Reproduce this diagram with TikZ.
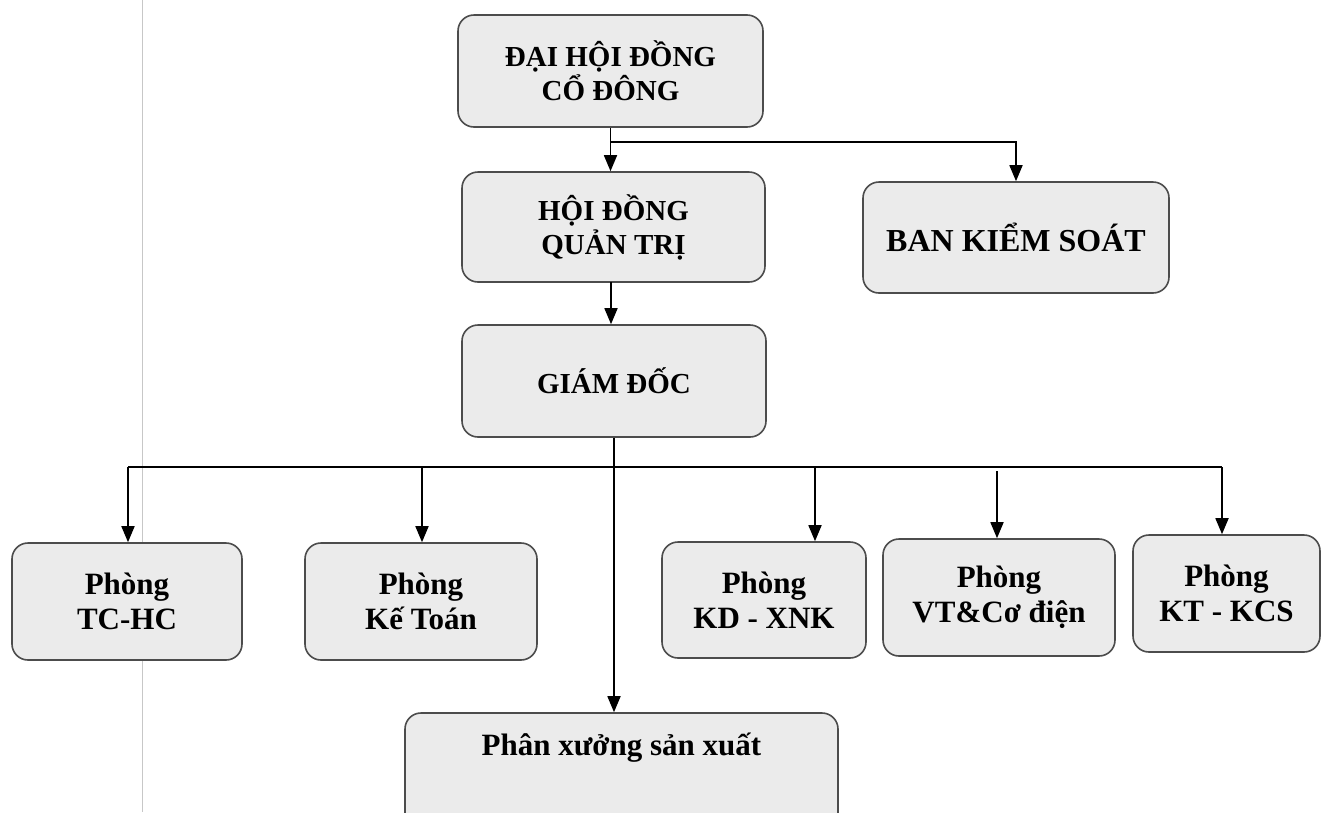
\documentclass[tikz,border=0pt]{standalone}
\usepackage{fontspec}
\setmainfont{Liberation Serif}
\usetikzlibrary{arrows.meta}
\begin{document}
\begin{tikzpicture}[x=1pt,y=-1pt,
  orgbox/.style={draw=black!70, line width=1.6pt, fill=black!8, rounded corners=16pt,
    inner sep=0pt, align=center, font=\bfseries\fontsize{29}{34}\selectfont},
  lowbox/.style={orgbox, font=\bfseries\fontsize{31}{35}\selectfont},
  conn/.style={line width=1.7pt, draw=black},
  arr/.style={conn, -{Triangle[length=16pt,width=13pt]}}]
\useasboundingbox (0,0) rectangle (1322,812);
\clip (0,0) rectangle (1322,812);
\fill[white] (0,0) rectangle (1322,812);
% faint scan line
\draw[black!22, line width=0.8pt] (142,0) -- (142,812);

\node[orgbox, minimum width=305pt, minimum height=112pt] (dhd) at (610.5,71) {ĐẠI HỘI ĐỒNG\\CỔ ĐÔNG};
\node[orgbox, minimum width=303pt, minimum height=110pt] (hdqt) at (613.5,227) {HỘI ĐỒNG\\QUẢN TRỊ};
\node[orgbox, minimum width=306pt, minimum height=111pt, font=\bfseries\fontsize{32}{36}\selectfont] (bks) at (1016,237.5) {BAN KIỂM SOÁT};
\node[orgbox, minimum width=304pt, minimum height=112pt] (gd) at (614,381) {GIÁM ĐỐC};

\node[lowbox, minimum width=230pt, minimum height=117pt] (tchc) at (127,601.5) {Phòng\\TC-HC};
\node[lowbox, minimum width=232pt, minimum height=117pt] (ktoan) at (421,601.5) {Phòng\\Kế Toán};
\node[lowbox, minimum width=204pt, minimum height=116pt] (kd) at (764,600) {Phòng\\KD - XNK};
\node[lowbox, minimum width=232pt, minimum height=117pt] (vt) at (999,597.5) {Phòng\\VT\&Cơ điện};
\node[lowbox, minimum width=187pt, minimum height=117pt] (kcs) at (1226.5,593.5) {Phòng\\KT - KCS};

\node[orgbox, minimum width=433pt, minimum height=120pt] (px) at (621.5,773) {};
\node[font=\bfseries\fontsize{31}{35}\selectfont, inner sep=0pt] (pxlabel) at (621.5,748) {Phân xưởng sản xuất};

% connectors
\coordinate (j1) at (610.5,142);
\draw[arr] (dhd.south) -- (dhd.south |- hdqt.north);
\draw[arr] (j1) -| (bks.north);
\draw[arr] (611,282) coordinate (h1) -- (h1 |- gd.north);
\draw[arr] (gd.south) -- (gd.south |- px.north);

\coordinate (busL) at (128,467);
\coordinate (busR) at (1222,467);
\coordinate (bkt) at (422,467);
\coordinate (bkd) at (815,467);
\coordinate (bvt) at (997,471);
\draw[conn] (busL) -- (busR);
\draw[arr] (busL) -- (busL |- tchc.north);
\draw[arr] (bkt) -- (bkt |- ktoan.north);
\draw[arr] (bkd) -- (bkd |- kd.north);
\draw[arr] (bvt) -- (bvt |- vt.north);
\draw[arr] (busR) -- (busR |- kcs.north);
\end{tikzpicture}
\end{document}
